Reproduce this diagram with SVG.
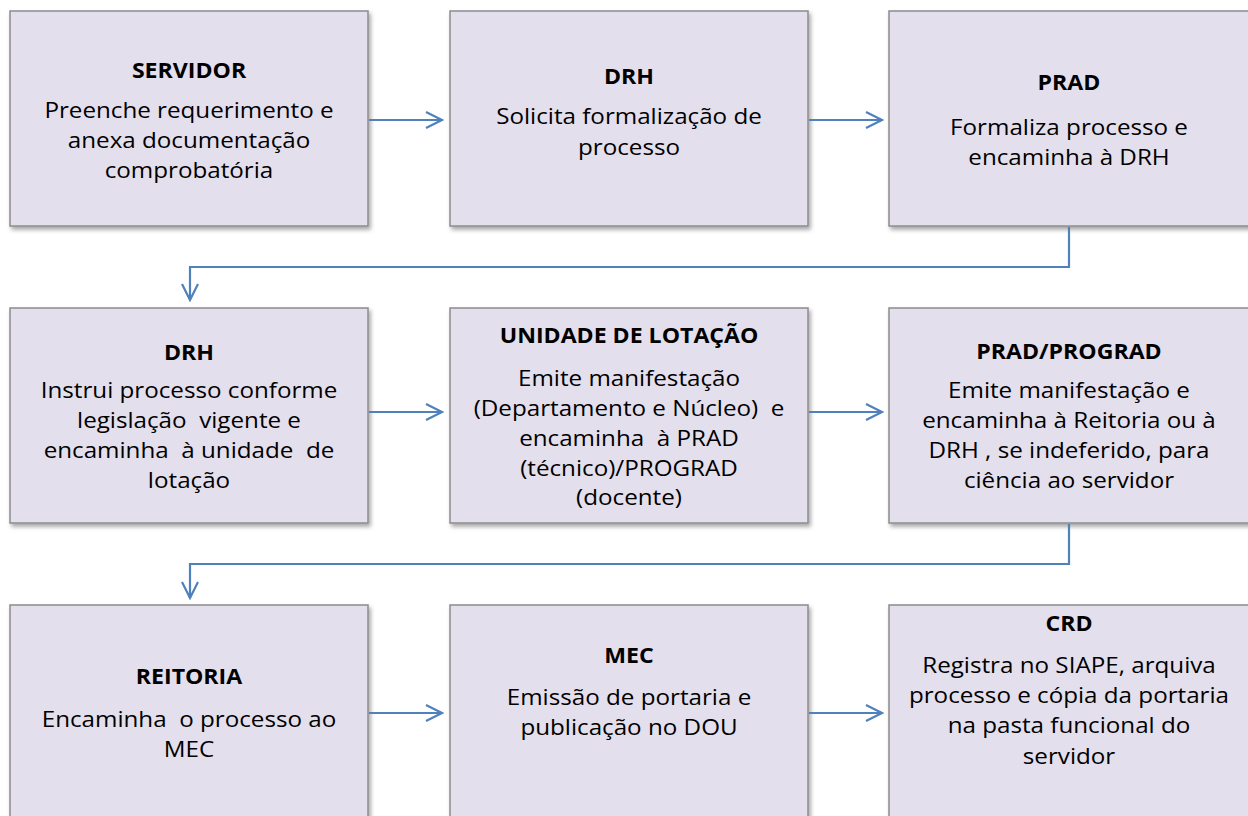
<svg xmlns="http://www.w3.org/2000/svg" width="1248" height="816" viewBox="0 0 1248 816">
<defs>
<filter id="sh" x="-5%" y="-5%" width="115%" height="115%">
<feDropShadow dx="2" dy="3" stdDeviation="2" flood-color="#000" flood-opacity="0.35"/>
</filter>
<marker id="ah" viewBox="0 0 20 20" refX="18" refY="10" markerWidth="20" markerHeight="20" markerUnits="userSpaceOnUse" orient="auto">
<path d="M2,2 L18,10 L2,18" fill="none" stroke="#4f81bd" stroke-width="2.2"/>
</marker>
</defs>
<style>
.box{fill:#e4dfec;stroke:#8c8c8c;stroke-width:1.5;filter:url(#sh)}
.t{font-family:"Open Sans","Liberation Sans",sans-serif;font-size:21px;font-weight:bold;fill:#000;text-anchor:middle}
.b{font-family:"Open Sans","Liberation Sans",sans-serif;font-size:22px;fill:#000;text-anchor:middle}
.c{fill:none;stroke:#4f81bd;stroke-width:2.2}
</style>
<rect width="1248" height="816" fill="#fff"/>
<g id="n1"><rect class="box" x="10" y="11" width="358" height="215"/>
<g transform="translate(189 0) scale(1.1 1)"><text class="t" x="0" y="78">SERVIDOR</text><text class="b" x="0" y="118">Preenche requerimento e</text><text class="b" x="0" y="148">anexa documentação</text><text class="b" x="0" y="178">comprobatória</text></g></g>
<g id="n2"><rect class="box" x="450" y="11" width="358" height="215"/>
<g transform="translate(629 0) scale(1.1 1)"><text class="t" x="0" y="84">DRH</text><text class="b" x="0" y="124">Solicita formalização de</text><text class="b" x="0" y="155">processo</text></g></g>
<g id="n3"><rect class="box" x="889" y="11" width="365" height="215"/>
<g transform="translate(1069 0) scale(1.1 1)"><text class="t" x="0" y="90">PRAD</text><text class="b" x="0" y="135">Formaliza processo e</text><text class="b" x="0" y="165">encaminha à DRH</text></g></g>
<g id="n4"><rect class="box" x="10" y="308" width="358" height="215"/>
<g transform="translate(189 0) scale(1.1 1)"><text class="t" x="0" y="360">DRH</text><text class="b" x="0" y="398">Instrui processo conforme</text><text class="b" x="0" y="428" xml:space="preserve">legislação  vigente e</text><text class="b" x="0" y="458" xml:space="preserve">encaminha  à unidade  de</text><text class="b" x="0" y="488">lotação</text></g></g>
<g id="n5"><rect class="box" x="450" y="308" width="358" height="215"/>
<g transform="translate(629 0) scale(1.1 1)"><text class="t" x="0" y="343">UNIDADE DE LOTAÇÃO</text><text class="b" x="0" y="386">Emite manifestação</text><text class="b" x="0" y="416" xml:space="preserve">(Departamento e Núcleo)  e</text><text class="b" x="0" y="446" xml:space="preserve">encaminha  à PRAD</text><text class="b" x="0" y="476">(técnico)/PROGRAD</text><text class="b" x="0" y="505">(docente)</text></g></g>
<g id="n6"><rect class="box" x="889" y="308" width="365" height="215"/>
<g transform="translate(1069 0) scale(1.1 1)"><text class="t" x="0" y="359">PRAD/PROGRAD</text><text class="b" x="0" y="398">Emite manifestação e</text><text class="b" x="0" y="428">encaminha à Reitoria ou à</text><text class="b" x="0" y="458">DRH , se indeferido, para</text><text class="b" x="0" y="488">ciência ao servidor</text></g></g>
<g id="n7"><rect class="box" x="10" y="605" width="358" height="230"/>
<g transform="translate(189 0) scale(1.1 1)"><text class="t" x="0" y="684">REITORIA</text><text class="b" x="0" y="727" xml:space="preserve">Encaminha  o processo ao</text><text class="b" x="0" y="757">MEC</text></g></g>
<g id="n8"><rect class="box" x="450" y="605" width="358" height="230"/>
<g transform="translate(629 0) scale(1.1 1)"><text class="t" x="0" y="663">MEC</text><text class="b" x="0" y="705">Emissão de portaria e</text><text class="b" x="0" y="735">publicação no DOU</text></g></g>
<g id="n9"><rect class="box" x="889" y="605" width="365" height="230"/>
<g transform="translate(1069 0) scale(1.1 1)"><text class="t" x="0" y="631">CRD</text><text class="b" x="0" y="673">Registra no SIAPE, arquiva</text><text class="b" x="0" y="703">processo e cópia da portaria</text><text class="b" x="0" y="733">na pasta funcional do</text><text class="b" x="0" y="764">servidor</text></g></g>
<g id="connectors">
<path class="c" d="M369,120 H442" marker-end="url(#ah)"/>
<path class="c" d="M809,120 H882" marker-end="url(#ah)"/>
<path class="c" d="M1069,227 V267 H190 V300" marker-end="url(#ah)"/>
<path class="c" d="M369,412 H442" marker-end="url(#ah)"/>
<path class="c" d="M809,412 H882" marker-end="url(#ah)"/>
<path class="c" d="M1069,524 V564 H190 V598" marker-end="url(#ah)"/>
<path class="c" d="M369,713 H442" marker-end="url(#ah)"/>
<path class="c" d="M809,713 H882" marker-end="url(#ah)"/>
</g>
</svg>
